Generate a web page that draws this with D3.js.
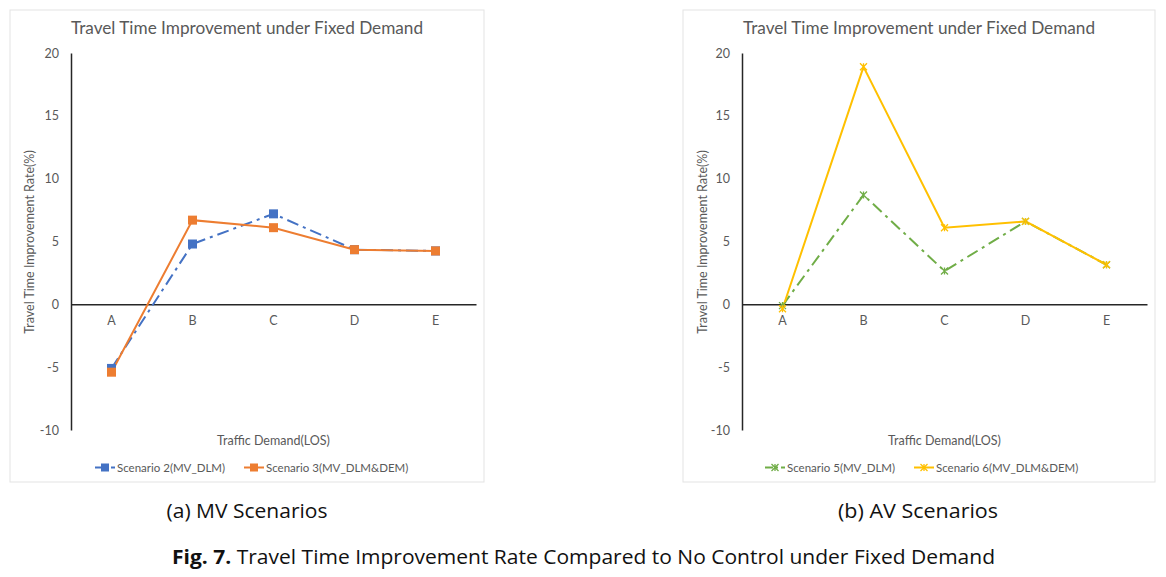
<!DOCTYPE html>
<html><head><meta charset="utf-8">
<script src="https://cdn.jsdelivr.net/npm/d3@7"></script>
<style>
body{margin:0;background:#fff;}
svg{display:block;font-family:Lato,"Open Sans",sans-serif;}
</style></head>
<body><svg id="c" width="1166" height="577"></svg>
<script>
const categories = ["A","B","C","D","E"];
const yTicks = [-10,-5,0,5,10,15,20];
const chartTitle = "Travel Time Improvement under Fixed Demand";
const xTitle = "Traffic Demand(LOS)";
const yTitle = "Travel Time Improvement Rate(%)";
const mvScenario2 = [-5.1, 4.8, 7.2, 4.35, 4.25];
const mvScenario3 = [-5.4, 6.7, 6.1, 4.35, 4.25];
const avScenario5 = [-0.1, 8.7, 2.65, 6.6, 3.15];
const avScenario6 = [-0.35, 18.9, 6.1, 6.6, 3.15];
const seriesNames = ["Scenario 2(MV_DLM)","Scenario 3(MV_DLM&DEM)","Scenario 5(MV_DLM)","Scenario 6(MV_DLM&DEM)"];
const captions = ["(a) MV Scenarios","(b) AV Scenarios"];
const figCaptionBold = "Fig. 7.";
const figCaptionRest = " Travel Time Improvement Rate Compared to No Control under Fixed Demand";

const svg = d3.select("#c");
const grey = "#595959";

function starPath(s){
  const h=s/2;
  return `M${-h},${-h}L${h},${h}M${-h},${h}L${h},${-h}M0,${-h}L0,${h}`;
}

function drawPanel(px, opt){
  const g = svg.append("g");
  g.append("rect").attr("x",px.x0).attr("y",10).attr("width",px.x1-px.x0).attr("height",472)
    .attr("fill","#fff").attr("stroke","#e3e3e3").attr("stroke-width",1);
  const x = d3.scaleBand().domain(categories).range([px.ax, px.ax+405]);
  const y = d3.scaleLinear().domain([-10,20]).range([430,53]);
  g.append("text").attr("x",(px.x0+px.x1)/2).attr("y",34).attr("text-anchor","middle")
    .attr("fill",grey).attr("font-size",17.2).text(chartTitle);
  // y axis
  const ya = g.append("g").attr("transform",`translate(${px.ax},0)`)
    .call(d3.axisLeft(y).tickValues(yTicks).tickFormat(d=>String(d)).tickSize(0).tickPadding(12));
  ya.select(".domain").attr("stroke","#262626").attr("stroke-width",1.5);
  ya.selectAll("text").attr("fill",grey).attr("font-size",12.5).attr("font-family","Lato,sans-serif");
  // x axis at 0
  const xa = g.append("g").attr("transform",`translate(0,${y(0)})`)
    .call(d3.axisBottom(x).tickSize(0).tickPadding(12));
  xa.select(".domain").attr("stroke","#262626").attr("stroke-width",1.5);
  xa.selectAll("text").attr("fill",grey).attr("font-size",12.5).attr("font-family","Lato,sans-serif");
  g.append("text").attr("x",px.ax+202.5).attr("y",445).attr("text-anchor","middle")
    .attr("fill",grey).attr("font-size",12.5).text(xTitle);
  g.append("text").attr("transform",`translate(${px.x0+24},242) rotate(-90)`).attr("text-anchor","middle")
    .attr("fill",grey).attr("font-size",12.5).text(yTitle);
  const line = d3.line().x((d,i)=>x(categories[i])+x.bandwidth()/2).y(d=>y(d));
  opt.series.forEach(s=>{
    g.append("path").datum(s.values).attr("d",line).attr("fill","none")
      .attr("stroke",s.color).attr("stroke-width",2).attr("stroke-dasharray",s.dash||null);
  });
  opt.series.forEach(s=>{
    s.values.forEach((v,i)=>{
      const cx=x(categories[i])+x.bandwidth()/2, cy=y(v);
      if(s.marker==="square"){
        g.append("rect").attr("x",cx-4.5).attr("y",cy-4.5).attr("width",9).attr("height",9).attr("fill",s.color);
      } else {
        g.append("path").attr("d",starPath(7)).attr("transform",`translate(${cx},${cy})`)
          .attr("stroke",s.color).attr("stroke-width",1.3).attr("fill","none");
      }
    });
  });
  // legend
  opt.series.forEach((s,k)=>{
    const lx = opt.legendX[k], ly = 467.5;
    g.append("line").attr("x1",lx).attr("x2",lx+20).attr("y1",ly).attr("y2",ly)
      .attr("stroke",s.color).attr("stroke-width",2).attr("stroke-dasharray",s.dash?"8,3,2,3":null);
    if(s.marker==="square"){
      g.append("rect").attr("x",lx+10-4).attr("y",ly-4).attr("width",8).attr("height",8).attr("fill",s.color);
    } else {
      g.append("path").attr("d",starPath(7)).attr("transform",`translate(${lx+10},${ly})`)
        .attr("stroke",s.color).attr("stroke-width",1.3).attr("fill","none");
    }
    g.append("text").attr("x",lx+22).attr("y",ly+4).attr("fill",grey).attr("font-size",11.5).text(s.name);
  });
}

drawPanel({x0:10,x1:484,ax:71},{
  series:[
    {name:seriesNames[0],values:mvScenario2,color:"#4472C4",dash:"12,5,3,5",marker:"square"},
    {name:seriesNames[1],values:mvScenario3,color:"#ED7D31",marker:"square"}
  ],
  legendX:[95,244]
});
drawPanel({x0:683,x1:1155,ax:742},{
  series:[
    {name:seriesNames[2],values:avScenario5,color:"#70AD47",dash:"12,5,3,5",marker:"star"},
    {name:seriesNames[3],values:avScenario6,color:"#FFC000",marker:"star"}
  ],
  legendX:[765,914]
});

const capFont = '"Liberation Sans Narrow","Open Sans",sans-serif';
svg.append("text").attr("x",247).attr("y",518).attr("text-anchor","middle").attr("font-size",20)
  .attr("font-family",capFont).attr("fill","#111").attr("textLength",161).attr("lengthAdjust","spacingAndGlyphs").text(captions[0]);
svg.append("text").attr("x",918).attr("y",518).attr("text-anchor","middle").attr("font-size",20)
  .attr("font-family",capFont).attr("fill","#111").attr("textLength",160).attr("lengthAdjust","spacingAndGlyphs").text(captions[1]);
const fc = svg.append("text").attr("x",172).attr("y",564).attr("font-size",20)
  .attr("font-family",capFont).attr("fill","#111");
fc.append("tspan").attr("font-weight","bold").text(figCaptionBold);
fc.append("tspan").text(figCaptionRest);
fc.attr("textLength",823).attr("lengthAdjust","spacingAndGlyphs");
</script></body></html>
